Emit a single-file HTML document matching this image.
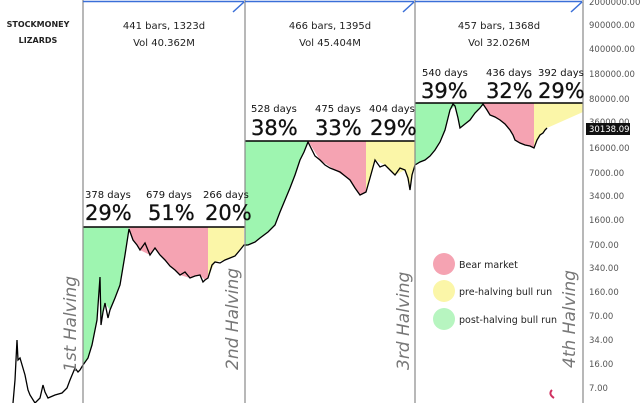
<!DOCTYPE html>
<html><head><meta charset="utf-8"><style>
html,body{margin:0;padding:0;background:#fff;}
svg{display:block;font-family:"DejaVu Sans","Liberation Sans",sans-serif;}
</style></head><body>
<svg width="640" height="403" viewBox="0 0 640 403">
<rect width="640" height="403" fill="#fff"/>
<polygon fill="#9ef5b0" points="83,227 129,227 125,255 120,285 115,298 110,310 105,303 101,325 100,277 97,320 92,345 88,358 83,365"/>
<polygon fill="#f5a3b2" points="129,227 208,227 208,278 205,280 200,275 190,278 180,275 175,270 165,260 155,248 150,255 140,250 133,240"/>
<polygon fill="#fbf6a8" points="208,227 244,227 244,245 240,250 235,256 225,260 215,262 208,278"/>
<polygon fill="#9ef5b0" points="245,141 308,141 300,160 295,175 285,200 275,225 260,238 248,245 245,247"/>
<polygon fill="#f5a3b2" points="308,141 366,141 366,192 360,195 350,180 335,170 320,160"/>
<polygon fill="#fbf6a8" points="366,141 415,141 415,165 410,190 405,170 395,175 385,165 375,160 366,192"/>
<polygon fill="#9ef5b0" points="415,103 483,103 480,108 470,120 460,128 455,106 450,110 445,130 435,150 425,160 415,165"/>
<polygon fill="#f5a3b2" points="483,103 534,103 534,148 525,145 515,140 510,130 500,120 490,115"/>
<polygon fill="#fbf6a8" points="534,103 583,103 583,112 547,128 545,130 540,135 534,148"/>
<polyline fill="none" stroke="#000" stroke-width="1.3" points="13,403 15,380 17,340 18,360 20,358 25,375 28,390 30,395 35,403 40,398 43,385 45,392 48,398 55,395 62,393 67,388 70,380 75,368 78,372 80,370 83,365 88,358 92,345 97,320 100,277 101,325 103,312 105,303 108,318 110,310 115,298 120,285 125,255 129,229 133,240 137,245 140,250 145,243 150,255 155,248 160,255 165,260 170,266 175,270 180,275 185,272 190,278 195,276 200,275 203,282 205,280 208,278 212,265 215,262 220,263 225,260 230,258 235,256 240,250 244,245 248,245 255,242 260,238 268,232 275,225 280,212 285,200 290,188 295,175 300,160 304,152 308,142 312,150 315,156 320,160 325,165 330,168 335,170 340,172 345,176 350,180 355,188 360,195 366,192 370,178 375,160 380,167 385,165 390,170 395,175 400,168 405,170 408,178 410,190 412,175 415,165 420,162 425,160 430,156 435,150 440,142 445,130 448,118 450,110 453,104 455,106 458,118 460,128 465,124 470,120 475,113 480,108 483,104 487,110 490,115 495,117 500,120 505,124 510,130 513,135 515,140 520,143 525,145 530,146 534,148 537,140 540,135 543,133 545,130 547,128"/>
<g stroke="#000" stroke-width="1.5"><line x1="83" y1="227" x2="245" y2="227"/><line x1="245" y1="141" x2="415" y2="141"/><line x1="415" y1="103" x2="583" y2="103"/></g>
<g stroke="#888" stroke-width="1.2"><line x1="83" y1="0" x2="83" y2="403"/><line x1="245" y1="0" x2="245" y2="403"/><line x1="415" y1="0" x2="415" y2="403"/><line x1="583" y1="0" x2="583" y2="403"/></g>
<g stroke="#3a6fd8" stroke-width="1.5" fill="none"><line x1="83" y1="1.5" x2="244" y2="1.5"/><line x1="245" y1="1.5" x2="414" y2="1.5"/><line x1="415" y1="1.5" x2="582" y2="1.5"/>
<path d="M233,12 L244,2"/><path d="M403,12 L414,2"/><path d="M571,12 L582,2"/></g>
<text x="38" y="27" font-size="8" font-weight="bold" text-anchor="middle" fill="#222">STOCKMONEY</text>
<text x="38" y="43" font-size="8" font-weight="bold" text-anchor="middle" fill="#222">LIZARDS</text>
<g font-size="10" fill="#222" text-anchor="middle">
<text x="164" y="29">441 bars, 1323d</text><text x="164" y="46">Vol 40.362M</text>
<text x="330" y="29">466 bars, 1395d</text><text x="330" y="46">Vol 45.404M</text>
<text x="499" y="29">457 bars, 1368d</text><text x="499" y="46">Vol 32.026M</text>
</g>
<g font-size="10" fill="#111">
<text x="85" y="198">378 days</text><text x="146" y="198">679 days</text><text x="203" y="198">266 days</text>
<text x="251" y="112">528 days</text><text x="315" y="112">475 days</text><text x="369" y="112">404 days</text>
<text x="422" y="76">540 days</text><text x="486" y="76">436 days</text><text x="538" y="76">392 days</text>
</g>
<g font-size="21" fill="#111" stroke="#111" stroke-width="0.3">
<text x="85" y="220">29%</text><text x="148" y="220">51%</text><text x="205" y="220">20%</text>
<text x="251" y="135">38%</text><text x="315" y="135">33%</text><text x="370" y="135">29%</text>
<text x="421" y="98">39%</text><text x="486" y="98">32%</text><text x="538" y="98">29%</text>
</g>
<g font-size="17" font-style="italic" fill="#777">
<text transform="translate(76,372) rotate(-90)">1st Halving</text>
<text transform="translate(238,370) rotate(-90)">2nd Halving</text>
<text transform="translate(409,370) rotate(-90)">3rd Halving</text>
<text transform="translate(575,368) rotate(-90)">4th Halving</text>
</g>
<circle cx="444" cy="264" r="11" fill="#f5a3b2"/><circle cx="444" cy="291" r="11" fill="#fbf6a8"/><circle cx="444" cy="319" r="11" fill="#b7f5c0"/>
<g font-size="9.5" fill="#222"><text x="459" y="268">Bear market</text><text x="459" y="295">pre-halving bull run</text><text x="459" y="323">post-halving bull run</text></g>
<g font-size="8.5" fill="#555">
<text x="589" y="5">2000000.00</text><text x="589" y="28">900000.00</text><text x="589" y="52">400000.00</text>
<text x="589" y="77">180000.00</text><text x="589" y="102">80000.00</text><text x="589" y="125">36000.00</text>
<text x="589" y="151">16000.00</text><text x="589" y="176">7000.00</text><text x="589" y="199">3400.00</text>
<text x="589" y="223">1600.00</text><text x="589" y="248">700.00</text><text x="589" y="271">340.00</text>
<text x="589" y="295">160.00</text><text x="589" y="319">70.00</text><text x="589" y="343">34.00</text>
<text x="589" y="367">16.00</text><text x="589" y="391">7.00</text>
</g>
<rect x="586" y="123" width="44" height="12" fill="#111"/>
<text x="589" y="132" font-size="8.5" fill="#fff">30138.09</text>
<path d="M554,398 q-6,-4 -2,-8" stroke="#d03060" stroke-width="2" fill="none"/>
</svg>
</body></html>
